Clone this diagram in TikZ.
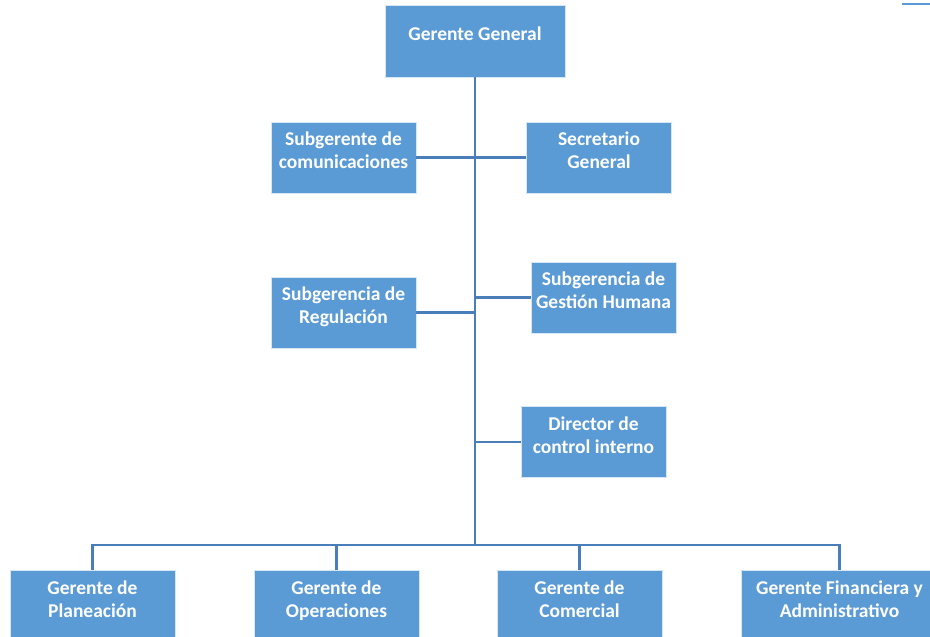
\documentclass[tikz,border=0pt]{standalone}
\usepackage{fontspec}
\setmainfont{Carlito}
\usepackage{tikz}
\definecolor{colorBox}{HTML}{5B9BD5}
\definecolor{colorLink}{HTML}{4A7EBB}
\tikzset{
  cargo/.style={rectangle, draw=white!75!colorBox, fill=colorBox, text=white,
    font=\bfseries\fontsize{19.5}{23}\selectfont, align=center, text depth=14pt,
    minimum width=145pt, minimum height=71pt, inner sep=0pt},
  link/.style={colorLink, line width=2.2pt}
}

\begin{document}
\begin{tikzpicture}[x=1pt, y=-1pt]
\useasboundingbox (0,0) rectangle (930,637);
% cabeza
\node[cargo, minimum width=180pt, minimum height=72pt] (gg) at (475,41) {Gerente General};
% staff
\node[cargo] (sc) at (343.5,157.5) {Subgerente de\\comunicaciones};
\node[cargo] (sg) at (599,157.5) {Secretario\\General};
\node[cargo] (sr) at (343.5,312.5) {Subgerencia de\\Regulaci\'on};
\node[cargo] (gh) at (603.5,297.5) {Subgerencia de\\Gesti\'on Humana};
\node[cargo] (dc) at (593.5,442) {Director de\\control interno};
% gerencias
\node[cargo, minimum width=165pt, minimum height=72pt] (gp) at (92.5,606) {Gerente de\\Planeaci\'on};
\node[cargo, minimum width=165pt, minimum height=72pt] (go) at (336.5,606) {Gerente de\\Operaciones};
\node[cargo, minimum width=165pt, minimum height=72pt] (gc) at (579.5,606) {Gerente de\\Comercial};
\node[cargo, minimum width=197pt, minimum height=72pt] (gf) at (839.5,606) {Gerente Financiera y\\Administrativo};
\coordinate (bus) at (475,545);
\coordinate (m1) at (902,3.5);
\coordinate (m2) at (930,3.5);
% conectores
\draw[link] (gg.south) -- (bus);
\draw[link] (sc.east) -- (sg.west);
\draw[link] (sr.east) -- (sr.east -| gg.south);
\draw[link] (gh.west) -- (gh.west -| gg.south);
\draw[link] (dc.west) -- (dc.west -| gg.south);
\draw[link] (gp.north) |- (bus) -| (gf.north);
\draw[link] (go.north) -- (go.north |- bus);
\draw[link] (gc.north) -- (gc.north |- bus);
\draw[colorBox, line width=2pt] (m1) -- (m2);
\end{tikzpicture}
\end{document}
